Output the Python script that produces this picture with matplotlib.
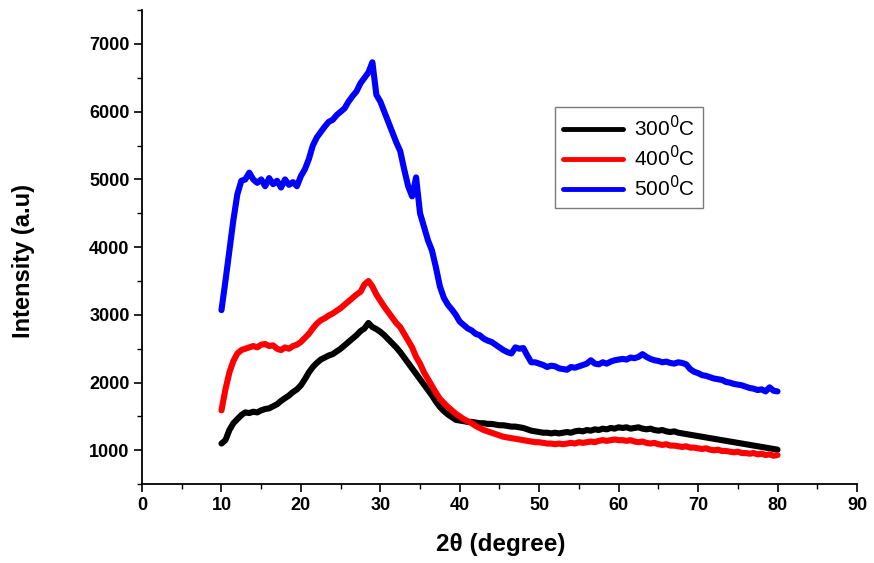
import numpy as np
import matplotlib
matplotlib.use("Agg")
import matplotlib.pyplot as plt

plt.rcParams['font.family'] = ['Liberation Sans', 'DejaVu Sans']

# 2-theta grid, 10..80 deg in 0.5 deg steps
two_theta = np.arange(10, 80.01, 0.5)

i_300 = [1100, 1150, 1300, 1400, 1460, 1520, 1560, 1550, 1570, 1560,
         1590, 1610, 1620, 1650, 1680, 1730, 1770, 1810, 1860, 1900,
         1960, 2050, 2150, 2230, 2290, 2340, 2370, 2400, 2420, 2460,
         2500, 2550, 2600, 2650, 2700, 2760, 2800, 2880, 2820, 2790,
         2750, 2700, 2640, 2580, 2520, 2450, 2370, 2290, 2210, 2130,
         2050, 1970, 1890, 1810, 1720, 1640, 1580, 1530, 1490, 1450,
         1440, 1430, 1420, 1420, 1410, 1400, 1400, 1390, 1390, 1380,
         1370, 1370, 1360, 1350, 1350, 1340, 1330, 1310, 1290, 1280,
         1270, 1260, 1260, 1250, 1260, 1250, 1260, 1270, 1260, 1280,
         1290, 1280, 1300, 1290, 1310, 1300, 1320, 1310, 1330, 1320,
         1340, 1330, 1340, 1320, 1330, 1340, 1320, 1310, 1320, 1300,
         1290, 1300, 1280, 1270, 1280, 1260, 1250, 1240, 1230, 1220,
         1210, 1200, 1190, 1180, 1170, 1160, 1150, 1140, 1130, 1120,
         1110, 1100, 1090, 1080, 1070, 1060, 1050, 1040, 1030, 1020,
         1010]

i_400 = [1590, 1900, 2150, 2320, 2430, 2480, 2500, 2520, 2540, 2520,
         2560, 2570, 2540, 2550, 2500, 2480, 2520, 2500, 2540, 2560,
         2600, 2660, 2720, 2800, 2870, 2920, 2950, 2990, 3020, 3060,
         3100, 3150, 3200, 3250, 3300, 3340, 3450, 3500, 3420, 3300,
         3210, 3120, 3040, 2960, 2880, 2820, 2720, 2620, 2520, 2380,
         2280, 2150, 2050, 1950, 1850, 1760, 1700, 1640, 1590, 1540,
         1500, 1460, 1430, 1400, 1360, 1330, 1300, 1280, 1260, 1240,
         1220, 1200, 1190, 1180, 1170, 1160, 1150, 1140, 1130, 1120,
         1120, 1110, 1100, 1100, 1090, 1100, 1090, 1100, 1110, 1100,
         1120, 1110, 1120, 1130, 1120, 1140, 1150, 1140, 1150, 1160,
         1150, 1150, 1140, 1150, 1130, 1120, 1130, 1110, 1100, 1110,
         1090, 1080, 1090, 1070, 1070, 1060, 1050, 1060, 1040, 1040,
         1030, 1020, 1030, 1010, 1000, 1010, 990, 990, 980, 970,
         980, 960, 960, 950, 960, 940, 950, 930, 940, 920,
         930]

i_500 = [3070, 3500, 3950, 4400, 4780, 4980, 5000, 5100, 5000, 4950,
         5000, 4900, 5020, 4930, 4980, 4880, 5000, 4920, 4960, 4900,
         5050, 5150, 5300, 5500, 5620, 5700, 5780, 5850, 5880, 5950,
         6000, 6050, 6150, 6230, 6300, 6420, 6500, 6580, 6730, 6250,
         6150, 6000, 5850, 5700, 5550, 5420, 5150, 4900, 4750, 5030,
         4500, 4300, 4100, 3950, 3700, 3420, 3250, 3150, 3080, 3000,
         2900, 2850, 2800, 2770, 2720, 2700, 2650, 2620, 2600, 2560,
         2520, 2480, 2450, 2430, 2520, 2500, 2510, 2400, 2300, 2300,
         2280, 2260, 2230, 2250, 2240, 2210, 2200, 2190, 2230, 2220,
         2240, 2260, 2280, 2330, 2280, 2270, 2300, 2280, 2310, 2330,
         2340, 2350, 2340, 2370, 2360, 2380, 2420, 2380, 2350, 2330,
         2320, 2300, 2310, 2290, 2280, 2300, 2290, 2270, 2200, 2160,
         2140, 2110, 2100, 2080, 2060, 2050, 2040, 2010, 2000, 1980,
         1970, 1960, 1940, 1920, 1910, 1890, 1900, 1870, 1930, 1880,
         1870]

labels = ['300$^0$C', '400$^0$C', '500$^0$C']
colors = ['black', 'red', 'blue']

fig = plt.figure(figsize=(8.74, 5.63), dpi=100)
ax = fig.add_axes([0.1625, 0.140, 0.818, 0.842])

for y, lab, c in zip([i_300, i_400, i_500], labels, colors):
    ax.plot(two_theta, y, color=c, lw=4.4, label=lab, solid_capstyle='round')

ax.set_xlim(0, 90)
ax.set_ylim(500, 7500)
ax.set_xticks(range(0, 91, 10))
ax.set_xticks(range(5, 90, 10), minor=True)
ax.set_yticks(range(1000, 7001, 1000))
ax.set_yticks(range(500, 7501, 1000), minor=True)

for s in ['top', 'right']:
    ax.spines[s].set_visible(False)
for s in ['left', 'bottom']:
    ax.spines[s].set_linewidth(1.3)

ax.tick_params(which='major', direction='out', length=6, width=1.2, labelsize=13, pad=3)
ax.tick_params(which='minor', direction='out', length=3.5, width=1.0)
for t in ax.get_xticklabels() + ax.get_yticklabels():
    t.set_fontweight('bold')

ax.set_xlabel('2θ (degree)', fontsize=17.5, fontweight='bold')
ax.set_ylabel('Intensity (a.u)', fontsize=17, fontweight='bold')
ax.xaxis.set_label_coords(0.502, -0.103)
ax.yaxis.set_label_coords(-0.150, 0.47)

leg = ax.legend(loc='upper left', bbox_to_anchor=(0.578, 0.795), fontsize=15,
                frameon=True, fancybox=False, edgecolor='0.35', handlelength=2.9,
                handletextpad=0.55, borderpad=0.35, labelspacing=0.25, borderaxespad=0)
leg.get_frame().set_linewidth(1.0)
for line in leg.get_lines():
    line.set_linewidth(3.5)

fig.savefig('out.png', dpi=100)
